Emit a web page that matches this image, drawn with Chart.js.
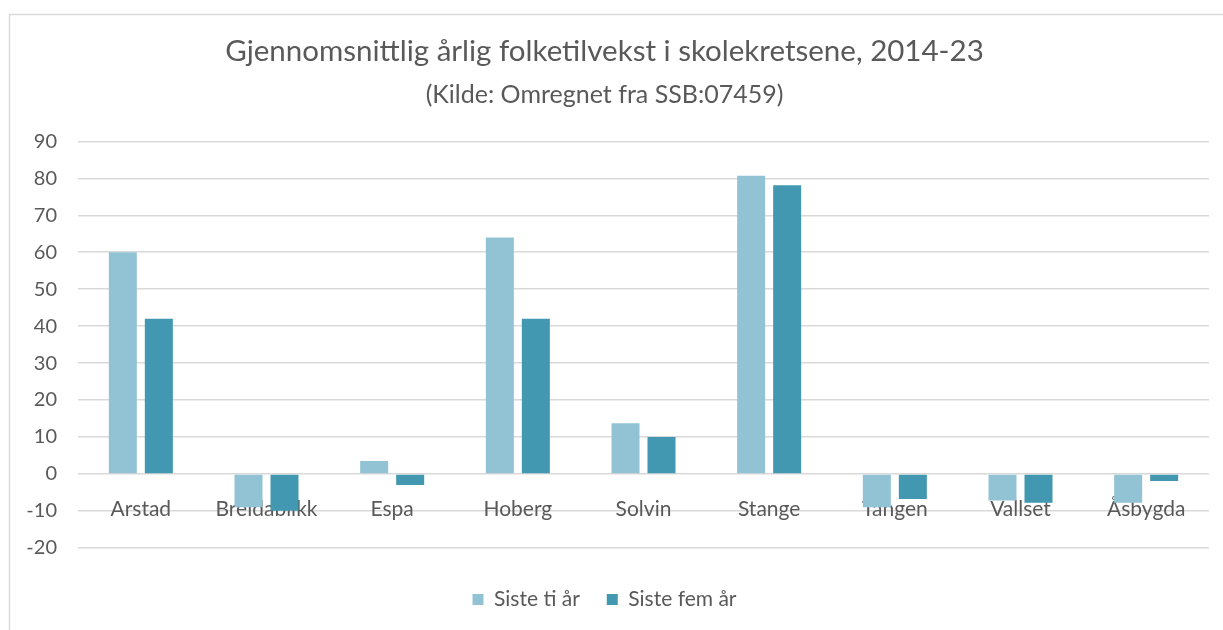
<!DOCTYPE html>
<html>
<head>
<meta charset="utf-8">
<script src="https://cdn.jsdelivr.net/npm/chart.js@4.4.1/dist/chart.umd.min.js"></script>
<style>
html,body{margin:0;padding:0;background:#fff;}
#wrap{width:1223px;height:630px;position:relative;}
</style>
</head>
<body>
<div id="wrap"><canvas id="c" width="1223" height="630"></canvas></div>
<script>
const categories = ["Arstad","Breidablikk","Espa","Hoberg","Solvin","Stange","Tangen","Vallset","Åsbygda"];
const sisteTiAr = [60, -9, 3.5, 64, 13.7, 80.7, -9, -7.2, -7.8];
const sisteFemAr = [42, -10, -3, 42, 10, 78.1, -6.8, -7.8, -1.9];
const seriesNames = ["Siste ti år", "Siste fem år"];
const titleText = "Gjennomsnittlig årlig folketilvekst i skolekretsene, 2014-23";
const subtitleText = "(Kilde: Omregnet fra SSB:07459)";

const FONT = "Lato, 'Open Sans', sans-serif";
const TXT = "#595959";

const borderPlugin = {
  id: 'frame',
  beforeDraw(chart) {
    const ctx = chart.ctx;
    ctx.save();
    ctx.fillStyle = '#fff';
    ctx.fillRect(0, 0, chart.width, chart.height);
    ctx.strokeStyle = '#d9d9d9';
    ctx.lineWidth = 1.5;
    ctx.strokeRect(9.5, 14.5, chart.width + 20, chart.height + 20);
    ctx.restore();
  }
};

new Chart(document.getElementById('c'), {
  type: 'bar',
  data: {
    labels: categories,
    datasets: [
      { label: seriesNames[0], data: sisteTiAr, backgroundColor: '#92C3D5', categoryPercentage: 0.573, barPercentage: 0.778 },
      { label: seriesNames[1], data: sisteFemAr, backgroundColor: '#4198B0', categoryPercentage: 0.573, barPercentage: 0.778 }
    ]
  },
  plugins: [borderPlugin],
  options: {
    responsive: false,
    animation: false,
    layout: { padding: { left: 0, right: 14, top: 24, bottom: 10 } },
    plugins: {
      title: {
        display: true, text: titleText, color: TXT,
        font: { family: FONT, size: 29.5, weight: 'normal' },
        padding: { top: 10, bottom: 11 }
      },
      subtitle: {
        display: true, text: subtitleText, color: TXT,
        font: { family: FONT, size: 25, weight: 'normal' },
        padding: { top: 0, bottom: 31 }
      },
      legend: {
        position: 'bottom',
        title: { display: true, text: ' ', font: { size: 1 }, padding: { top: 0, bottom: 13 } },
        labels: {
          color: TXT, boxWidth: 11, boxHeight: 11, padding: 27,
          font: { family: FONT, size: 21 }
        }
      },
      tooltip: { enabled: false }
    },
    scales: {
      x: {
        position: { y: 0 },
        grid: { display: false, drawTicks: false },
        border: { display: false },
        ticks: { color: TXT, padding: 23, font: { family: FONT, size: 21 }, maxRotation: 0 }
      },
      y: {
        min: -20, max: 90,
        grid: { color: '#d9d9d9', lineWidth: 1.5, drawTicks: false },
        border: { display: false },
        afterFit(scale) { scale.width = 78; },
        ticks: { stepSize: 10, color: TXT, padding: 21, font: { family: FONT, size: 20 } }
      }
    }
  }
});
</script>
</body>
</html>
